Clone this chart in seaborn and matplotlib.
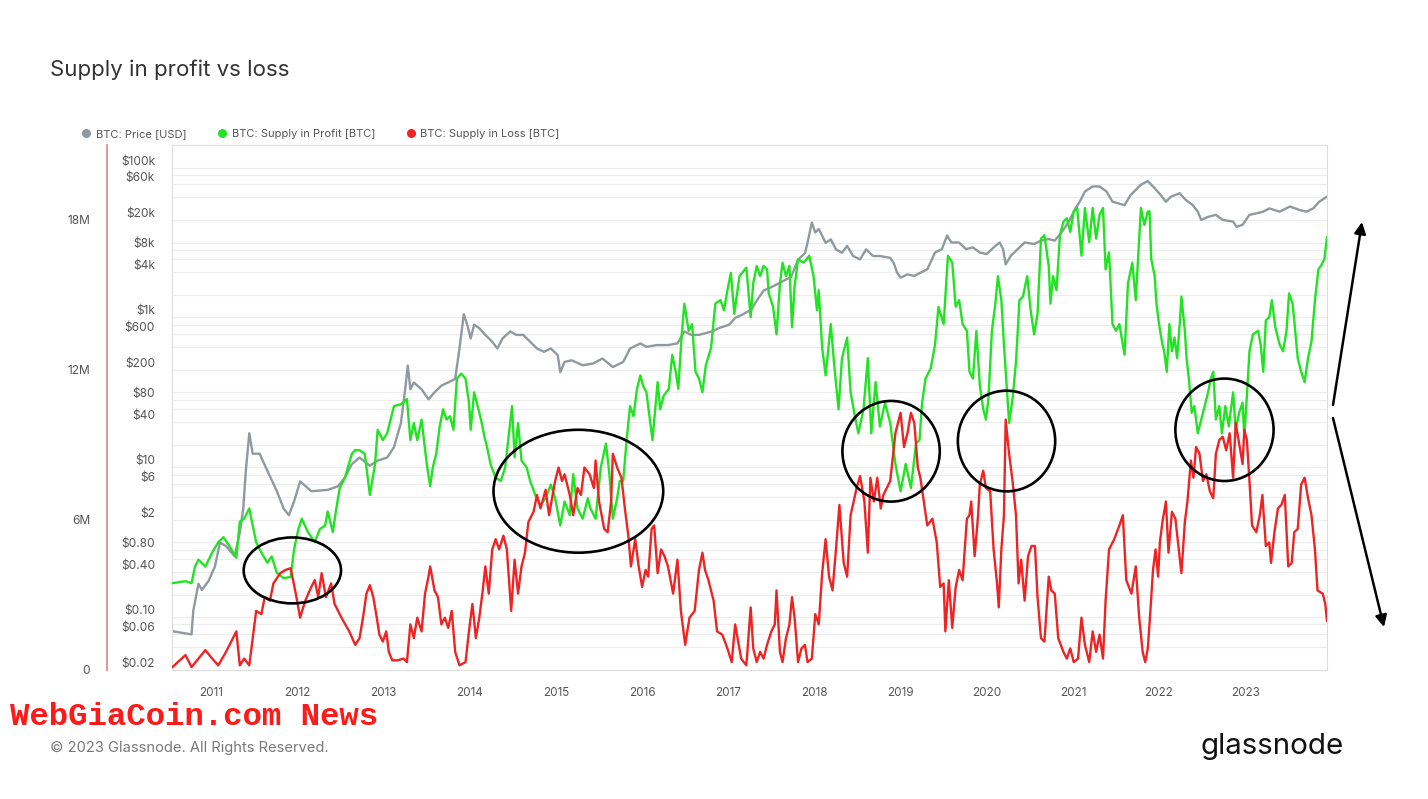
import matplotlib
matplotlib.use("Agg")
import matplotlib.pyplot as plt
import seaborn as sns
from matplotlib.patches import Ellipse
from matplotlib.lines import Line2D
from matplotlib.ticker import FixedLocator, NullFormatter

# ---------------- data ----------------
price_years = [2010.55, 2010.77, 2010.79, 2010.85, 2010.89, 2010.97, 2011.04, 2011.10, 2011.17, 2011.27,
               2011.33, 2011.37, 2011.40, 2011.44, 2011.48, 2011.56, 2011.65, 2011.76, 2011.84, 2011.90,
               2011.96, 2012.03, 2012.16, 2012.35, 2012.47, 2012.55, 2012.63, 2012.72, 2012.84, 2012.92,
               2013.04, 2013.12, 2013.20, 2013.25, 2013.28, 2013.31, 2013.35, 2013.44, 2013.52, 2013.59,
               2013.67, 2013.75, 2013.83, 2013.88, 2013.93, 2013.97, 2014.01, 2014.05, 2014.11, 2014.18,
               2014.26, 2014.32, 2014.38, 2014.47, 2014.54, 2014.62, 2014.70, 2014.78, 2014.86, 2014.94,
               2015.02, 2015.05, 2015.10, 2015.18, 2015.31, 2015.43, 2015.54, 2015.66, 2015.78, 2015.86,
               2015.98, 2016.05, 2016.17, 2016.30, 2016.41, 2016.49, 2016.57, 2016.66, 2016.81, 2016.89,
               2017.01, 2017.08, 2017.17, 2017.27, 2017.33, 2017.41, 2017.50, 2017.58, 2017.65, 2017.73,
               2017.81, 2017.89, 2017.92, 2017.97, 2018.01, 2018.05, 2018.09, 2018.13, 2018.19, 2018.25,
               2018.32, 2018.38, 2018.45, 2018.53, 2018.60, 2018.68, 2018.76, 2018.88, 2018.92, 2018.96,
               2019.00, 2019.08, 2019.16, 2019.23, 2019.31, 2019.40, 2019.48, 2019.54, 2019.59, 2019.68,
               2019.76, 2019.84, 2019.92, 2020.00, 2020.08, 2020.15, 2020.19, 2020.22, 2020.28, 2020.36,
               2020.44, 2020.55, 2020.63, 2020.72, 2020.79, 2020.87, 2020.95, 2021.03, 2021.08, 2021.14,
               2021.23, 2021.31, 2021.39, 2021.46, 2021.54, 2021.60, 2021.67, 2021.79, 2021.87, 2021.95,
               2022.02, 2022.08, 2022.14, 2022.24, 2022.31, 2022.39, 2022.45, 2022.49, 2022.57, 2022.66,
               2022.74, 2022.86, 2022.90, 2022.97, 2023.05, 2023.13, 2023.21, 2023.28, 2023.40, 2023.52,
               2023.63, 2023.71, 2023.79, 2023.86, 2023.95]
price_usd = [0.065, 0.059, 0.122, 0.28, 0.23, 0.31, 0.47, 0.99, 0.89, 0.65,
             1.35, 2.8, 9.0, 28.5, 15.2, 15.2, 9.0, 4.8, 2.8, 2.3,
             3.5, 6.5, 4.8, 5.0, 5.6, 7.3, 11.0, 13.5, 10.5, 12.2,
             13.5, 18.6, 39, 110, 228, 110, 135, 110, 81, 100,
             123, 136, 151, 385, 1100, 800, 525, 800, 720, 585,
             475, 385, 525, 650, 585, 585, 475, 385, 348, 385,
             315, 186, 255, 268, 230, 243, 283, 218, 255, 385,
             450, 405, 428, 428, 450, 650, 585, 585, 650, 720,
             800, 985, 1100, 1280, 1670, 2280, 2540, 2820, 3120, 3480,
             5900, 7200, 9900, 18500, 13600, 15100, 12300, 9900, 11000, 8100,
             7300, 9000, 6600, 5950, 8100, 6600, 6600, 6250, 5350, 3950,
             3400, 3750, 3580, 3950, 4380, 7350, 8150, 12400, 10000, 10000,
             8150, 8600, 7350, 7000, 8600, 10000, 8150, 5100, 6650, 8150,
             10000, 9550, 10600, 11100, 10600, 13700, 18700, 28500, 35000, 48000,
             56000, 56000, 48000, 35000, 33000, 31500, 43000, 59000, 66000, 53000,
             43000, 35000, 41000, 45500, 37000, 31700, 25800, 20000, 22000, 23400,
             20000, 19000, 16200, 17200, 23400, 24500, 25800, 28500, 25800, 30200,
             27200, 25800, 28500, 35000, 41000]

profit_years = [2010.55, 2010.70, 2010.77, 2010.81, 2010.85, 2010.93, 2011.01, 2011.08, 2011.14, 2011.21,
                2011.29, 2011.33, 2011.38, 2011.44, 2011.48, 2011.52, 2011.58, 2011.65, 2011.70, 2011.76,
                2011.84, 2011.92, 2011.96, 2012.01, 2012.05, 2012.12, 2012.20, 2012.26, 2012.32, 2012.35,
                2012.41, 2012.45, 2012.49, 2012.55, 2012.63, 2012.67, 2012.72, 2012.78, 2012.84, 2012.90,
                2012.93, 2012.99, 2013.04, 2013.08, 2013.12, 2013.20, 2013.27, 2013.31, 2013.35, 2013.39,
                2013.44, 2013.50, 2013.54, 2013.57, 2013.61, 2013.65, 2013.69, 2013.73, 2013.77, 2013.81,
                2013.85, 2013.90, 2013.95, 2013.99, 2014.01, 2014.05, 2014.09, 2014.13, 2014.17, 2014.20,
                2014.24, 2014.30, 2014.36, 2014.41, 2014.45, 2014.49, 2014.52, 2014.56, 2014.60, 2014.66,
                2014.70, 2014.76, 2014.82, 2014.88, 2014.94, 2014.99, 2015.05, 2015.10, 2015.16, 2015.20,
                2015.25, 2015.31, 2015.37, 2015.40, 2015.46, 2015.52, 2015.58, 2015.62, 2015.66, 2015.71,
                2015.74, 2015.78, 2015.82, 2015.86, 2015.90, 2015.94, 2015.98, 2016.01, 2016.05, 2016.09,
                2016.12, 2016.18, 2016.21, 2016.25, 2016.31, 2016.35, 2016.39, 2016.42, 2016.46, 2016.49,
                2016.54, 2016.58, 2016.62, 2016.66, 2016.70, 2016.74, 2016.80, 2016.85, 2016.91, 2016.95,
                2016.99, 2017.03, 2017.07, 2017.13, 2017.21, 2017.26, 2017.29, 2017.33, 2017.37, 2017.41,
                2017.45, 2017.47, 2017.52, 2017.56, 2017.60, 2017.63, 2017.67, 2017.71, 2017.74, 2017.77,
                2017.81, 2017.87, 2017.91, 2017.94, 2017.99, 2018.03, 2018.05, 2018.09, 2018.13, 2018.19,
                2018.23, 2018.28, 2018.32, 2018.38, 2018.42, 2018.47, 2018.51, 2018.57, 2018.62, 2018.66,
                2018.71, 2018.76, 2018.82, 2018.88, 2018.94, 2019.00, 2019.06, 2019.12, 2019.18, 2019.22,
                2019.25, 2019.29, 2019.35, 2019.40, 2019.44, 2019.50, 2019.55, 2019.60, 2019.64, 2019.68,
                2019.72, 2019.77, 2019.80, 2019.84, 2019.88, 2019.92, 2019.96, 2019.99, 2020.02, 2020.06,
                2020.10, 2020.13, 2020.17, 2020.20, 2020.24, 2020.26, 2020.30, 2020.34, 2020.38, 2020.42,
                2020.47, 2020.51, 2020.55, 2020.59, 2020.63, 2020.67, 2020.72, 2020.74, 2020.77, 2020.81,
                2020.85, 2020.89, 2020.93, 2020.97, 2021.01, 2021.05, 2021.10, 2021.14, 2021.19, 2021.23,
                2021.27, 2021.31, 2021.35, 2021.38, 2021.42, 2021.46, 2021.50, 2021.54, 2021.60, 2021.64,
                2021.69, 2021.73, 2021.79, 2021.83, 2021.87, 2021.89, 2021.91, 2021.95, 2021.97, 2022.00,
                2022.04, 2022.06, 2022.09, 2022.12, 2022.15, 2022.18, 2022.21, 2022.24, 2022.26, 2022.30,
                2022.32, 2022.35, 2022.38, 2022.41, 2022.45, 2022.49, 2022.53, 2022.57, 2022.60, 2022.63,
                2022.66, 2022.70, 2022.73, 2022.77, 2022.81, 2022.86, 2022.89, 2022.93, 2022.97, 2022.99,
                2023.02, 2023.05, 2023.09, 2023.15, 2023.18, 2023.21, 2023.24, 2023.28, 2023.31, 2023.35,
                2023.40, 2023.44, 2023.48, 2023.51, 2023.55, 2023.57, 2023.61, 2023.65, 2023.69, 2023.73,
                2023.77, 2023.81, 2023.85, 2023.88, 2023.92, 2023.95]
profit_supply_m = [3.46, 3.54, 3.46, 4.12, 4.40, 4.12, 4.69, 5.10, 5.30, 4.94,
                   4.48, 5.92, 6.04, 6.45, 5.76, 5.10, 4.69, 4.28, 4.53, 3.87,
                   3.66, 3.71, 4.81, 5.63, 6.04, 5.51, 5.10, 5.63, 5.76, 6.33,
                   5.51, 6.45, 7.27, 7.68, 8.63, 8.79, 8.78, 8.64, 6.99, 8.23,
                   9.60, 9.19, 9.46, 10.01, 10.55, 10.62, 10.83, 9.19, 9.87, 9.19,
                   10.01, 8.23, 7.34, 8.09, 8.64, 9.73, 10.42, 10.01, 10.14, 9.60,
                   11.65, 11.85, 11.65, 10.69, 9.60, 11.10, 10.55, 10.01, 9.32, 8.91,
                   8.23, 7.68, 7.55, 8.09, 9.32, 10.55, 8.50, 9.87, 8.37, 8.09,
                   7.55, 6.99, 6.59, 6.86, 7.41, 6.86, 5.77, 6.73, 6.18, 7.82,
                   6.45, 6.04, 6.86, 6.45, 6.04, 8.09, 9.05, 7.82, 6.04, 6.86,
                   7.55, 7.55, 9.19, 10.55, 10.14, 11.24, 11.78, 11.37, 11.10, 10.01,
                   9.19, 11.51, 10.42, 10.96, 11.24, 12.60, 11.92, 11.24, 13.42, 14.65,
                   13.56, 13.83, 11.92, 11.65, 11.10, 12.19, 12.88, 14.65, 14.79, 14.38,
                   15.19, 15.88, 14.24, 15.75, 16.09, 14.11, 15.47, 16.16, 15.75, 16.16,
                   16.02, 15.06, 14.52, 13.42, 15.47, 16.29, 15.75, 16.16, 13.70, 15.34,
                   16.43, 16.29, 16.43, 16.57, 15.75, 14.38, 15.19, 12.88, 11.78, 13.83,
                   12.19, 10.42, 12.47, 13.29, 11.10, 10.14, 9.46, 10.42, 12.47, 9.46,
                   11.51, 9.73, 10.69, 9.87, 8.23, 7.14, 8.23, 7.27, 9.05, 9.19,
                   10.69, 11.65, 12.06, 13.01, 14.52, 13.83, 16.57, 16.29, 14.52, 14.79,
                   13.83, 13.56, 11.92, 11.65, 13.56, 11.37, 10.42, 10.01, 10.83, 13.56,
                   14.65, 15.75, 14.79, 13.01, 10.96, 9.87, 10.83, 12.33, 14.79, 14.93,
                   15.75, 14.38, 13.42, 14.24, 17.25, 17.39, 16.16, 14.65, 15.75, 15.19,
                   17.39, 17.93, 18.07, 17.52, 18.34, 18.48, 16.57, 18.48, 17.11, 18.48,
                   17.25, 18.21, 18.48, 16.02, 16.70, 13.83, 13.56, 13.83, 12.60, 15.47,
                   16.29, 14.79, 18.48, 17.80, 18.34, 18.34, 16.43, 15.75, 14.65, 13.83,
                   13.01, 12.74, 11.92, 13.83, 12.74, 13.29, 12.47, 13.83, 14.93, 13.56,
                   12.47, 11.51, 10.28, 10.55, 9.46, 10.01, 10.55, 11.10, 11.65, 11.92,
                   10.01, 10.55, 9.46, 10.55, 9.73, 11.10, 9.60, 10.28, 10.69, 9.32,
                   10.96, 12.74, 13.42, 13.56, 13.01, 11.92, 13.97, 14.11, 14.79, 13.70,
                   13.01, 12.74, 13.56, 15.06, 14.65, 13.97, 12.47, 11.92, 11.51, 12.47,
                   13.14, 14.79, 16.02, 16.16, 16.43, 17.32]

loss_years = [2010.55, 2010.61, 2010.70, 2010.77, 2010.85, 2010.93, 2011.01, 2011.08, 2011.17, 2011.25,
              2011.29, 2011.33, 2011.38, 2011.44, 2011.48, 2011.52, 2011.58, 2011.62, 2011.68, 2011.72,
              2011.80, 2011.86, 2011.92, 2011.98, 2012.03, 2012.09, 2012.16, 2012.20, 2012.24, 2012.28,
              2012.33, 2012.39, 2012.43, 2012.51, 2012.60, 2012.67, 2012.72, 2012.76, 2012.80, 2012.84,
              2012.88, 2012.92, 2012.95, 2012.99, 2013.03, 2013.06, 2013.10, 2013.16, 2013.23, 2013.27,
              2013.31, 2013.35, 2013.39, 2013.44, 2013.48, 2013.52, 2013.54, 2013.59, 2013.63, 2013.67,
              2013.71, 2013.75, 2013.79, 2013.83, 2013.88, 2013.95, 2013.99, 2014.03, 2014.07, 2014.11,
              2014.15, 2014.18, 2014.22, 2014.26, 2014.30, 2014.34, 2014.39, 2014.43, 2014.48, 2014.52,
              2014.56, 2014.60, 2014.64, 2014.68, 2014.74, 2014.78, 2014.82, 2014.88, 2014.92, 2014.99,
              2015.03, 2015.07, 2015.10, 2015.16, 2015.20, 2015.25, 2015.29, 2015.33, 2015.39, 2015.44,
              2015.46, 2015.50, 2015.56, 2015.60, 2015.64, 2015.66, 2015.71, 2015.76, 2015.80, 2015.84,
              2015.87, 2015.92, 2015.96, 2016.00, 2016.04, 2016.07, 2016.11, 2016.14, 2016.18, 2016.22,
              2016.26, 2016.30, 2016.36, 2016.41, 2016.45, 2016.50, 2016.55, 2016.61, 2016.66, 2016.70,
              2016.73, 2016.77, 2016.83, 2016.87, 2016.93, 2016.99, 2017.04, 2017.08, 2017.15, 2017.21,
              2017.26, 2017.29, 2017.33, 2017.37, 2017.41, 2017.45, 2017.50, 2017.54, 2017.56, 2017.60,
              2017.63, 2017.67, 2017.71, 2017.74, 2017.77, 2017.81, 2017.85, 2017.89, 2017.92, 2017.97,
              2018.01, 2018.05, 2018.09, 2018.13, 2018.17, 2018.21, 2018.25, 2018.29, 2018.34, 2018.38,
              2018.42, 2018.49, 2018.53, 2018.58, 2018.62, 2018.65, 2018.69, 2018.73, 2018.77, 2018.80,
              2018.84, 2018.88, 2018.94, 2019.00, 2019.04, 2019.08, 2019.12, 2019.16, 2019.20, 2019.23,
              2019.27, 2019.31, 2019.37, 2019.42, 2019.46, 2019.50, 2019.52, 2019.56, 2019.60, 2019.64,
              2019.68, 2019.72, 2019.77, 2019.80, 2019.82, 2019.86, 2019.90, 2019.92, 2019.96, 2019.99,
              2020.04, 2020.08, 2020.12, 2020.14, 2020.17, 2020.20, 2020.22, 2020.26, 2020.30, 2020.34,
              2020.37, 2020.40, 2020.44, 2020.48, 2020.52, 2020.56, 2020.59, 2020.63, 2020.67, 2020.72,
              2020.75, 2020.79, 2020.83, 2020.89, 2020.93, 2020.97, 2021.01, 2021.06, 2021.10, 2021.14,
              2021.19, 2021.23, 2021.27, 2021.31, 2021.35, 2021.38, 2021.42, 2021.48, 2021.54, 2021.58,
              2021.62, 2021.68, 2021.73, 2021.77, 2021.81, 2021.84, 2021.87, 2021.90, 2021.93, 2021.96,
              2021.99, 2022.01, 2022.04, 2022.08, 2022.11, 2022.15, 2022.19, 2022.22, 2022.26, 2022.30,
              2022.33, 2022.37, 2022.40, 2022.43, 2022.47, 2022.51, 2022.55, 2022.59, 2022.63, 2022.66,
              2022.70, 2022.74, 2022.78, 2022.82, 2022.86, 2022.89, 2022.93, 2022.97, 2022.99, 2023.02,
              2023.05, 2023.08, 2023.13, 2023.17, 2023.20, 2023.24, 2023.28, 2023.30, 2023.34, 2023.38,
              2023.42, 2023.46, 2023.50, 2023.54, 2023.57, 2023.61, 2023.65, 2023.69, 2023.73, 2023.77,
              2023.81, 2023.84, 2023.90, 2023.93, 2023.95]
loss_supply_m = [0.10, 0.30, 0.58, 0.10, 0.44, 0.78, 0.44, 0.17, 0.71, 1.26,
                 1.53, 0.17, 0.44, 0.17, 1.26, 2.35, 2.22, 2.90, 2.76, 3.45,
                 3.86, 3.99, 4.06, 3.04, 2.08, 2.76, 3.31, 3.58, 2.90, 3.86,
                 2.90, 3.45, 2.63, 2.08, 1.53, 0.99, 1.26, 2.08, 3.04, 3.38,
                 2.90, 2.08, 1.40, 1.12, 1.53, 0.71, 0.37, 0.37, 0.44, 0.30,
                 1.81, 1.26, 2.08, 1.53, 3.04, 3.72, 4.13, 3.17, 2.90, 1.81,
                 2.08, 1.67, 2.35, 0.71, 0.17, 0.30, 1.53, 2.63, 1.26, 2.08,
                 3.17, 4.13, 3.04, 4.81, 5.22, 4.81, 5.36, 4.81, 2.35, 4.40,
                 3.04, 4.13, 4.68, 5.91, 6.32, 6.99, 6.45, 7.20, 6.18, 7.55,
                 8.09, 7.55, 7.82, 6.99, 6.18, 7.27, 6.99, 8.09, 7.82, 7.27,
                 8.37, 6.73, 5.63, 5.50, 6.73, 8.64, 8.09, 7.68, 6.45, 5.36,
                 4.13, 5.22, 4.13, 3.31, 3.99, 3.72, 5.63, 5.77, 3.86, 4.81,
                 4.54, 4.13, 3.04, 4.40, 2.35, 0.99, 2.08, 2.35, 3.99, 4.68,
                 3.99, 3.58, 2.76, 1.53, 1.40, 0.85, 0.30, 1.81, 0.44, 0.17,
                 2.49, 0.85, 0.30, 0.71, 0.44, 0.99, 1.53, 1.81, 3.17, 0.71,
                 0.30, 1.26, 1.81, 2.90, 2.08, 0.30, 0.85, 0.99, 0.30, 0.44,
                 2.22, 1.81, 3.86, 5.22, 3.72, 3.17, 4.81, 6.59, 4.27, 3.72,
                 6.18, 7.27, 7.75, 6.73, 4.68, 7.68, 6.73, 7.68, 6.45, 6.99,
                 7.27, 7.55, 9.46, 10.28, 8.91, 9.46, 10.28, 9.87, 8.09, 7.68,
                 6.73, 5.77, 6.04, 5.09, 3.31, 3.45, 1.53, 3.58, 1.67, 3.31,
                 3.99, 3.58, 6.04, 6.18, 6.73, 4.54, 6.18, 7.41, 7.96, 7.27,
                 7.14, 4.81, 3.45, 2.49, 4.81, 6.18, 10.01, 8.64, 7.55, 6.18,
                 3.45, 4.40, 2.76, 4.54, 4.95, 4.95, 2.90, 1.26, 1.12, 3.72,
                 3.17, 3.04, 1.26, 0.71, 0.44, 0.85, 0.30, 0.44, 2.08, 0.99,
                 0.30, 1.53, 0.71, 1.40, 0.44, 2.76, 4.81, 5.22, 5.77, 6.18,
                 3.58, 3.04, 4.13, 2.08, 0.71, 0.30, 0.85, 2.35, 3.99, 4.81,
                 3.72, 5.09, 5.91, 6.73, 4.68, 6.32, 6.04, 5.09, 3.86, 5.91,
                 6.73, 8.37, 7.68, 8.91, 8.64, 7.55, 7.82, 7.14, 6.86, 8.64,
                 9.19, 9.32, 8.78, 9.46, 7.68, 9.87, 9.05, 8.23, 9.60, 9.19,
                 7.55, 5.77, 5.50, 6.18, 6.99, 4.95, 5.09, 4.27, 5.50, 6.45,
                 6.59, 6.99, 4.13, 4.27, 5.50, 5.63, 7.41, 7.68, 6.86, 6.18,
                 4.81, 3.17, 3.04, 2.63, 1.94]

year_ticks = list(range(2011, 2024))
year_labels = [str(y) for y in year_ticks]
price_ticks = [0.02, 0.06, 0.1, 0.4, 0.8, 2, 6, 10, 40, 80, 200, 600, 1000, 4000, 8000, 20000, 60000, 100000]
price_tick_labels = ["$0.02", "$0.06", "$0.10", "$0.40", "$0.80", "$2", "$6", "$10", "$40", "$80",
                     "$200", "$600", "$1k", "$4k", "$8k", "$20k", "$60k", "$100k"]
supply_ticks = [0, 6, 12, 18]
supply_tick_labels = ["0", "6M", "12M", "18M"]
series_labels = ["BTC: Price [USD]", "BTC: Supply in Profit [BTC]", "BTC: Supply in Loss [BTC]"]

# ---------------- style ----------------
GRAY, GREEN, RED = "#8f999e", "#22e322", "#ee2424"
sns.set_theme(style="white")
plt.rcParams["font.family"] = ["Inter", "DejaVu Sans"]

W, H = 1428, 799
fig = plt.figure(figsize=(W / 100, H / 100), dpi=100)
fig.patch.set_facecolor("white")
L, R, T, B = 172, 1327, 145, 669.6
ax = fig.add_axes([L / W, 1 - B / H, (R - L) / W, (B - T) / H])

# price axis (log)
ax.set_yscale("log")
sns.lineplot(x=price_years, y=price_usd, ax=ax, color=GRAY, linewidth=1.7, estimator=None, sort=False)
ax.set_ylim(0.02, 200000)
ax.set_xlim(2010.543, 2023.95)
grid_vals = [m * 10.0 ** k for k in range(-2, 6) for m in (1, 2, 4, 6, 8)]
grid_vals = [v for v in grid_vals if 0.021 < v < 190000]
ax.yaxis.set_minor_locator(FixedLocator(grid_vals))
ax.yaxis.set_minor_formatter(NullFormatter())
ax.set_yticks(price_ticks)
ax.set_yticklabels(price_tick_labels)
for lab in ax.get_yticklabels():
    lab.set_verticalalignment("bottom")
ax.grid(axis="y", which="both", color="#ececec", linewidth=0.8)
ax.grid(axis="x", which="both", visible=False)
ax.tick_params(axis="y", which="both", length=0, pad=12.2, labelsize=8.6, labelcolor="#555555")
ax.set_xticks(year_ticks)
ax.set_xticklabels(year_labels)
ax.tick_params(axis="x", direction="in", length=14, width=0.8, color="#e4e4e4",
               pad=12.6, labelsize=8.4, labelcolor="#555555")
for s in ax.spines.values():
    s.set_color("#dddddd")
    s.set_linewidth(0.8)
ax.set_xlabel("")
ax.set_ylabel("")

# supply axis (linear)
ax2 = ax.twinx()
sns.lineplot(x=profit_years, y=profit_supply_m, ax=ax2, color=GREEN, linewidth=1.7, estimator=None, sort=False)
sns.lineplot(x=loss_years, y=loss_supply_m, ax=ax2, color=RED, linewidth=1.7, estimator=None, sort=False)
ax2.set_ylim(0, 21)
ax2.set_xlim(2010.543, 2023.95)
ax2.yaxis.tick_left()
ax2.set_yticks(supply_ticks)
ax2.set_yticklabels(supply_tick_labels)
for lab in ax2.get_yticklabels():
    lab.set_verticalalignment("bottom")
ax2.tick_params(axis="y", length=0, pad=12.2, labelsize=8.6, labelcolor="#555555")
ax2.spines["left"].set_position(("outward", 46.8))
ax2.spines["left"].set_color("#ec8a8a")
ax2.spines["left"].set_linewidth(1.3)
for k in ("right", "top", "bottom"):
    ax2.spines[k].set_visible(False)
ax2.grid(False)
ax2.set_ylabel("")

# annotation ellipses (year, supply M)
for cx, cy, w, h in [(2011.94, 3.97, 1.13, 2.64), (2015.26, 7.14, 1.97, 4.92),
                     (2018.89, 8.74, 1.13, 4.03), (2020.23, 9.15, 1.13, 4.03),
                     (2022.76, 9.60, 1.14, 4.10)]:
    ax2.add_patch(Ellipse((cx, cy), w, h, fill=False, edgecolor="black", linewidth=1.9,
                          zorder=10, clip_on=False))

# arrows at the right
for tail, head in [((1333, H - 405), (1362, H - 222)), ((1333, H - 418), (1384, H - 627))]:
    ax2.annotate("", xy=head, xytext=tail, xycoords="figure pixels", textcoords="figure pixels",
                 annotation_clip=False,
                 arrowprops=dict(arrowstyle="-|>", color="black", lw=1.8, mutation_scale=17,
                                 shrinkA=0, shrinkB=0))

# legend
handles = [Line2D([], [], marker="o", linestyle="", color=c, markersize=5.5) for c in (GRAY, GREEN, RED)]
fig.legend(handles, series_labels, loc="center left", bbox_to_anchor=(82 / W, 1 - 134 / H),
           ncol=3, frameon=False, fontsize=8.0, handlelength=0.8, handletextpad=0.45,
           columnspacing=2.8, borderpad=0, borderaxespad=0, labelcolor="#555555")

# texts
fig.text(50 / W, 1 - 70 / H, "Supply in profit vs loss", fontsize=16, color="#333333",
         ha="left", va="center")
fig.text(10 / W, 1 - 717 / H, "WebGiaCoin.com News", fontsize=23.3, color="#ff1a1a",
         fontweight="bold", family=["Liberation Mono", "DejaVu Sans Mono"], ha="left", va="center")
fig.text(50 / W, 1 - 748 / H, "\u00a9 2023 Glassnode. All Rights Reserved.", fontsize=10.6,
         color="#7a7a7a", ha="left", va="center")
fig.text(1200 / W, 1 - 746 / H, "glassnode", fontsize=21.3, color="#111111", ha="left", va="center")

fig.savefig("out.png", dpi=100, facecolor="white")
